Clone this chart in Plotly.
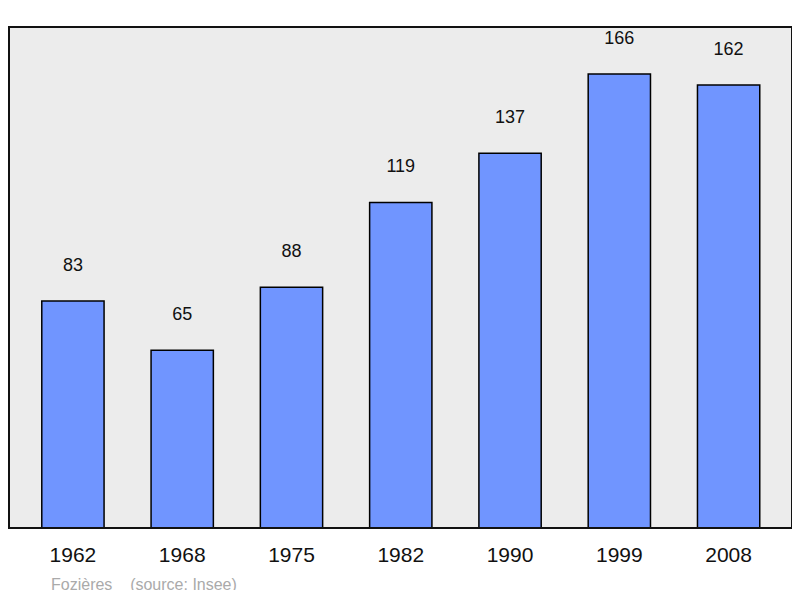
import plotly.graph_objects as go

years = ["1962", "1968", "1975", "1982", "1990", "1999", "2008"]
population = [83, 65, 88, 119, 137, 166, 162]
xpos = list(range(len(years)))

fig = go.Figure(go.Bar(
    x=xpos, y=population, width=0.57,
    marker=dict(color="#7095ff", line=dict(color="#000000", width=1.5)),
    texttemplate="%{y}<br> ", textposition="outside",
    textfont=dict(family="Liberation Sans, Arial", size=18, color="#111"),
    cliponaxis=False,
))
fig.update_layout(
    width=784, height=582, paper_bgcolor="white", plot_bgcolor="#ececec",
    margin=dict(l=1, r=0, t=19, b=62), showlegend=False,
    xaxis=dict(range=[-0.585, 6.58], tickvals=xpos, ticktext=years, showgrid=False,
               zeroline=False, ticks="", ticklabelstandoff=12,
               tickfont=dict(family="Liberation Sans, Arial", size=21, color="#111")),
    yaxis=dict(range=[0, 183.2], visible=False),
    shapes=[dict(type="rect", xref="paper", yref="paper", x0=0, x1=1, y0=0, y1=1,
                 line=dict(color="#111", width=2))],
    annotations=[dict(text="Fozières    (source: Insee)", xref="paper", yref="paper",
                      x=0.051, y=-0.112, xanchor="left", yanchor="middle", showarrow=False,
                      font=dict(family="Liberation Sans, Arial", size=16, color="#aaaaaa"))],
)
fig.write_html("out.html")
